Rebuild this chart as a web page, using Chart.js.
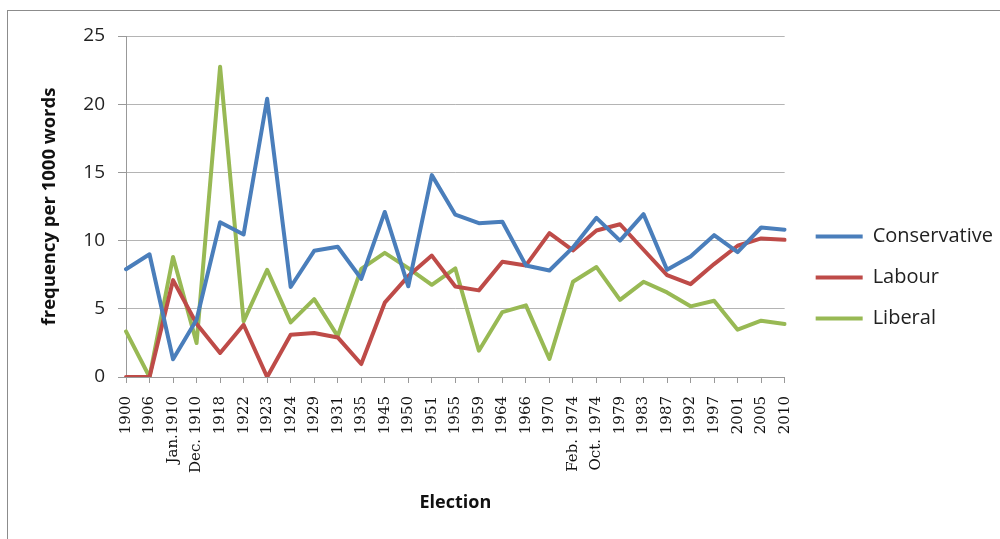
<!DOCTYPE html>
<html>
<head>
<meta charset="utf-8">
<script src="https://cdn.jsdelivr.net/npm/chart.js@4/dist/chart.umd.min.js"></script>
<style>
    html, body { margin: 0; padding: 0; background: #fff; }
    #wrap { position: relative; width: 1000px; height: 539px; }
    /* рамка области диаграммы (обрезана справа и снизу) */
    #frame { position: absolute; left: 7px; top: 10px; right: -5px; bottom: -5px;
             border-left: 1px solid #8c8c8c; border-top: 1px solid #8c8c8c; }
    #chart { position: absolute; left: 0; top: 0; }
</style>
</head>
<body>
<div id="wrap">
    <div id="frame"></div>
    <canvas id="chart" width="1000" height="539"></canvas>
</div>
<script>
// Данные
const elections = ['1900', '1906', 'Jan.1910', 'Dec. 1910', '1918', '1922', '1923', '1924', '1929', '1931',
    '1935', '1945', '1950', '1951', '1955', '1959', '1964', '1966', '1970', 'Feb. 1974',
    'Oct. 1974', '1979', '1983', '1987', '1992', '1997', '2001', '2005', '2010'];

const conservative = [7.9, 9.0, 1.3, 4.2, 11.35, 10.45, 20.4, 6.6, 9.25, 9.55,
    7.2, 12.1, 6.65, 14.8, 11.9, 11.28, 11.38, 8.18, 7.81, 9.5,
    11.67, 10.0, 11.94, 7.86, 8.84, 10.4, 9.16, 10.96, 10.8];

const labour = [0, 0, 7.1, 3.9, 1.76, 3.83, 0, 3.1, 3.22, 2.9,
    0.95, 5.45, 7.4, 8.9, 6.64, 6.35, 8.45, 8.18, 10.55, 9.28,
    10.74, 11.2, 9.33, 7.47, 6.81, 8.28, 9.62, 10.16, 10.06];

const liberal = [3.34, 0, 8.8, 2.49, 22.75, 4.08, 7.86, 4.0, 5.71, 3.0,
    7.93, 9.1, 7.98, 6.76, 7.96, 1.93, 4.76, 5.25, 1.32, 6.98,
    8.06, 5.66, 6.98, 6.2, 5.18, 5.59, 3.47, 4.13, 3.88];

const seriesNames = ['Conservative', 'Labour', 'Liberal'];
const seriesColors = ['#4a7ebb', '#be4b48', '#98b954'];

const yTicks = [0, 5, 10, 15, 20, 25];

// сдвиг легенды вправо, как в Excel
const legendShift = {
    id: 'legendShift',
    afterLayout(chart) {
        if (chart.legend) {
            chart.legend.left += 10;
            chart.legend.right += 10;
        }
    }
};

function makeDataset(label, data, color) {
    return {
        label: label,
        data: data,
        borderColor: color,
        backgroundColor: color,
        borderWidth: 4,
        pointRadius: 0,
        tension: 0,
        borderJoinStyle: 'round',
        borderCapStyle: 'round',
        fill: false
    };
}

const ctx = document.getElementById('chart').getContext('2d');
new Chart(ctx, {
    type: 'line',
    data: {
        labels: elections,
        datasets: [
            makeDataset(seriesNames[0], conservative, seriesColors[0]),
            makeDataset(seriesNames[1], labour, seriesColors[1]),
            makeDataset(seriesNames[2], liberal, seriesColors[2])
        ]
    },
    plugins: [legendShift],
    options: {
        responsive: false,
        animation: false,
        devicePixelRatio: 1,
        layout: { padding: { top: 36, bottom: 20, left: 0, right: 7 } },
        plugins: {
            tooltip: { enabled: false },
            legend: {
                position: 'right',
                maxWidth: 215,
                labels: {
                    usePointStyle: true,
                    pointStyle: 'line',
                    pointStyleWidth: 47,
                    padding: 21,
                    color: '#222',
                    font: { family: 'Open Sans', size: 20 }
                }
            }
        },
        scales: {
            x: {
                offset: false,
                afterFit: s => { s.height = 142; },
                grid: { drawOnChartArea: false, drawTicks: true, tickLength: 6, color: '#999' },
                border: { color: '#999' },
                ticks: {
                    autoSkip: false,
                    minRotation: 90,
                    maxRotation: 90,
                    padding: 13,
                    color: '#111',
                    font: { family: 'DejaVu Serif', size: 15 }
                },
                title: {
                    display: true,
                    text: 'Election',
                    color: '#111',
                    padding: { top: 0, bottom: 5 },
                    font: { family: 'Open Sans', size: 18, weight: 'bold' }
                }
            },
            y: {
                min: 0,
                max: 25,
                afterFit: s => { s.width = 126; },
                afterBuildTicks: s => { s.ticks = yTicks.map(v => ({ value: v })); },
                grid: { color: '#b4b4b4', tickLength: 8, tickColor: '#999' },
                border: { color: '#999' },
                ticks: {
                    padding: 13,
                    color: '#222',
                    font: { family: 'Open Sans', size: 19 }
                },
                title: {
                    display: true,
                    text: 'frequency per 1000 words',
                    color: '#111',
                    padding: { top: 39, bottom: 0 },
                    font: { family: 'Open Sans', size: 18.5, weight: 'bold' }
                }
            }
        }
    }
});
</script>
</body>
</html>
